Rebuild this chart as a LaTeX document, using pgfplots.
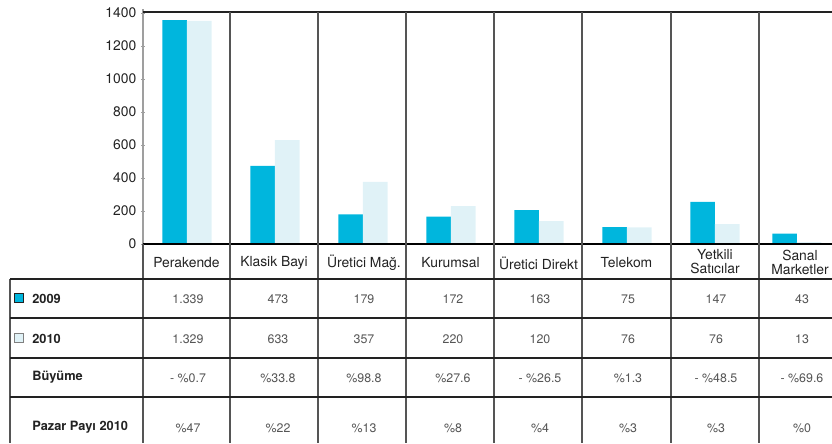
\documentclass[border=0pt]{standalone}
\usepackage{pgfplots}
\pgfplotsset{compat=1.18}
\usepackage{fontspec}
\setmainfont{TeX Gyre Heros}
\definecolor{c09}{HTML}{00B6DD}
\definecolor{c10}{HTML}{E0F2F7}
\definecolor{rule}{HTML}{555555}
\definecolor{txt}{HTML}{222222}
\definecolor{num}{HTML}{555555}

\begin{document}
\begin{tikzpicture}[x=0.75pt,y=-0.75pt]
\useasboundingbox (0,0) rectangle (832,443);
\begin{axis}[
  at={(107.25pt,-183pt)}, anchor=south west,
  scale only axis, width=516.75pt, height=173.25pt,
  xmin=-0.5, xmax=7.33, ymin=0, ymax=1400,
  hide x axis,
  axis y line*=left,
  y axis line style={draw=gray!75, line width=0.8pt},
  ytick={0,200,...,1400},
  ytick style={draw=gray!75},
  major tick length=3pt, tick align=center,
  yticklabel style={font=\fontsize{10.4}{12}\selectfont, text=txt},
  /pgf/number format/assume math mode=true,
  /pgf/number format/1000 sep={},
  ybar=0pt, bar width=18.4pt,
  clip=false,
]
% 2009
\addplot[fill=c09, draw=none] coordinates {(0,1357) (1,473) (2,180) (3,166) (4,206) (5,103) (6,255) (6.93,63)};
% 2010
\addplot[fill=c10, draw=none] coordinates {(0,1353) (1,630) (2,376) (3,230) (4,139) (5,101) (6,121) (6.93,12)};
\end{axis}

% frame lines
\draw[draw=gray!75, line width=0.8pt] (143,9) -- (143,13);
\draw[draw=txt, line width=1.2pt] (143,12) -- (832,12);
\draw[draw=black, line width=0.9pt] (143,244) -- (832,244);
\foreach \x in {230,318,406,494,582,671,759}
  \draw[draw=rule, line width=0.9pt] (\x,12) -- (\x,443);
\draw[draw=rule, line width=0.9pt] (143,244) -- (143,443);
\draw[draw=rule, line width=0.9pt] (10,279) -- (10,443);
\foreach \y in {279,318,358,397}
  \draw[draw=txt, line width=0.8pt] (10,\y) -- (832,\y);

% category labels
\begin{scope}[every node/.style={font=\fontsize{10.4}{10.5}\selectfont, text=txt, align=center, inner sep=0pt}]
\node at (186.5,263) {Perakende};
\node at (274,263) {Klasik Bayi};
\node at (364,263) {Üretici Mağ.};
\node at (450.5,263) {Kurumsal};
\node at (538.5,263) {Üretici Direkt};
\node at (626.5,263) {Telekom};
\node at (715,262) {Yetkili\\Satıcılar};
\node at (800,262) {Sanal\\Marketler};
\end{scope}

% row labels
\filldraw[fill=c09, draw=txt, line width=0.5pt] (14.5,293.5) rectangle (23.5,302.5);
\filldraw[fill=c10, draw=gray, line width=0.5pt] (14.5,333.5) rectangle (23.5,342.5);
\begin{scope}[every node/.style={font=\fontsize{9.6}{12}\selectfont\bfseries, text=txt, anchor=west, inner sep=0pt}]
\node at (32,298.5) {2009};
\node at (32,338.5) {2010};
\node at (32,377) {Büyüme};
\node at (32,427) {Pazar Payı 2010};
\end{scope}

% table values
\begin{scope}[every node/.style={font=\fontsize{9.3}{11}\selectfont, text=num, inner sep=0pt}]
\foreach \x/\a/\b/\c/\d in {
  188/1.339/1.329/- \%0.7/\%47,
  278/473/633/\%33.8/\%22,
  364/179/357/\%98.8/\%13,
  453/172/220/\%27.6/\%8,
  540/163/120/- \%26.5/\%4,
  628/75/76/\%1.3/\%3,
  716/147/76/- \%48.5/\%3,
  802/43/13/- \%69.6/\%0}{
  \node at (\x,299.5) {\a};
  \node at (\x,339) {\b};
  \node at (\x,378) {\c};
  \node at (\x,428) {\d};
}
\end{scope}
\end{tikzpicture}
\end{document}
